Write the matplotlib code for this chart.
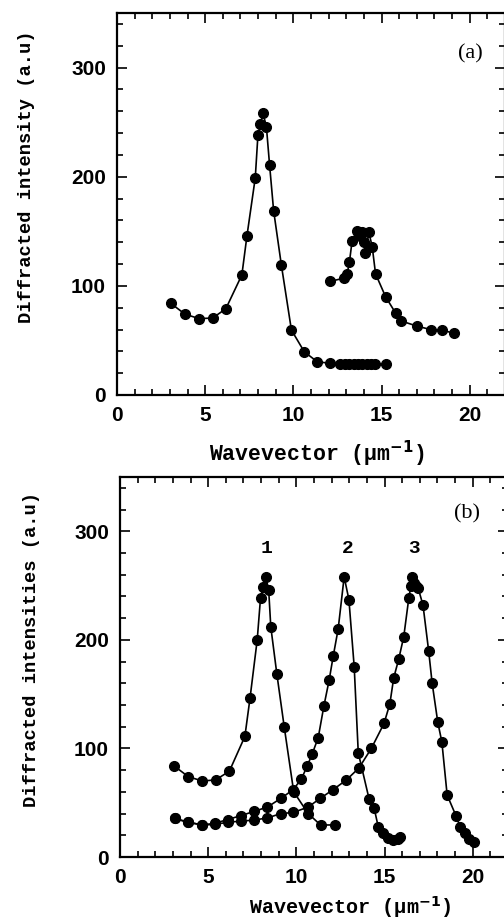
import numpy as np
import matplotlib
matplotlib.use("Agg")
import matplotlib.pyplot as plt
from matplotlib.ticker import MultipleLocator

# panel (a): first and second diffraction peaks
a1_x = [3.05, 3.86, 4.66, 5.42, 6.17, 7.08, 7.37, 7.84, 7.99, 8.13, 8.28, 8.47, 8.65, 8.88,
        9.32, 9.89, 10.62, 11.35, 12.1, 12.67, 12.92, 13.17, 13.41, 13.65, 13.9, 14.15,
        14.39, 14.64, 15.25]
a1_y = [84, 74, 70, 70.5, 79, 110, 146, 199, 238, 248, 258, 246, 211, 169,
        119, 59.5, 39.6, 30.5, 29, 28, 28, 28, 28, 28, 28, 28,
        28, 28, 28]
a2_x = [12.05, 12.86, 13.05, 13.18, 13.33, 13.58, 13.75, 13.88, 14.0, 14.09, 14.28, 14.47,
        14.66, 15.23, 15.8, 16.08, 17.03, 17.78, 18.44, 19.1]
a2_y = [104, 107, 111, 122, 141, 150, 146, 149, 140, 130, 149, 136,
        111, 90, 75, 68, 63, 60, 59.5, 56.5]

# panel (b): three curves
b1_x = [3.06, 3.87, 4.67, 5.42, 6.2, 7.08, 7.37, 7.78, 7.97, 8.12, 8.26, 8.43, 8.55, 8.89,
        9.31, 9.85, 10.67, 11.37, 12.18]
b1_y = [84, 74, 70, 71, 79, 111, 146, 200, 239, 249, 258, 246, 212, 169,
        120, 60, 40, 29.5, 29.5]
b2_x = [3.1, 3.87, 4.67, 5.38, 6.1, 6.84, 7.6, 8.36, 9.12, 9.82, 10.29, 10.62, 10.9, 11.24,
        11.56, 11.86, 12.09, 12.37, 12.71, 12.98, 13.28, 13.51, 14.13, 14.41, 14.64, 14.9,
        15.2, 15.48, 15.77, 15.9]
b2_y = [35.5, 32, 29.5, 31, 34.5, 38, 42, 46, 54, 62, 72, 84, 95, 110,
        139, 163, 185, 210, 258, 237, 175, 96, 53, 45, 28, 22,
        17.5, 16, 17, 18.5]
b3_x = [3.1, 3.87, 4.67, 5.38, 6.1, 6.84, 7.6, 8.36, 9.12, 9.82, 10.67, 11.35, 12.08, 12.84,
        13.55, 14.25, 14.97, 15.3, 15.52, 15.8, 16.09, 16.38, 16.5, 16.57, 16.66, 16.8,
        16.9, 17.18, 17.5, 17.7, 18.02, 18.25, 18.55, 19.05, 19.28, 19.58, 19.8, 20.09]
b3_y = [35.5, 32, 29.5, 30, 32, 33, 34, 36, 40, 41, 46, 54, 62, 71,
        82, 100, 123, 141, 165, 182, 203, 239, 250, 258, 252, 250,
        248, 232, 190, 160, 124, 106, 57, 38, 28, 22, 17, 14]

peak_labels = ['1', '2', '3']
peak_label_x = [8.3, 12.9, 16.7]

mono = 'Liberation Mono'
xlab = 'Wavevector (μm$^{\\mathbf{-1}}$)'

fig = plt.figure(figsize=(5.04, 9.21), dpi=100)
W, H = 504.0, 921.0

def make_ax(left, right, bottom, top):
    ax = fig.add_axes([left / W, 1 - bottom / H, (right - left) / W, (bottom - top) / H])
    ax.set_xlim(0, 22)
    ax.set_ylim(0, 350)
    ax.xaxis.set_major_locator(MultipleLocator(5))
    ax.xaxis.set_minor_locator(MultipleLocator(1))
    ax.yaxis.set_major_locator(MultipleLocator(100))
    ax.yaxis.set_minor_locator(MultipleLocator(20))
    ax.tick_params(which='both', direction='in', top=True, right=True, width=1.2,
                   labelsize=15, pad=8)
    ax.tick_params(which='major', length=7)
    ax.tick_params(which='minor', length=4)
    for lab in ax.get_xticklabels() + ax.get_yticklabels():
        lab.set_family('Liberation Sans')
        lab.set_fontweight('bold')
    for s in ax.spines.values():
        s.set_linewidth(1.6)
    return ax

style = dict(color='black', marker='o', markersize=7, linewidth=1.2, clip_on=False)

ax1 = make_ax(117, 505, 395, 13)
ax1.plot(a1_x, a1_y, **style)
ax1.plot(a2_x, a2_y, **style)
ax1.text(20.05, 313, '(a)', family='Liberation Serif', fontsize=16, ha='center', va='center')
ax1.set_ylabel('Diffracted intensity (a.u)', family=mono, fontweight='bold', fontsize=13.5)
ax1.yaxis.set_label_coords(-0.211, 0.571)
ax1.set_xlabel(xlab, family=mono, fontweight='bold', fontsize=15.5)
ax1.xaxis.set_label_coords(0.515, -0.115)

ax2 = make_ax(120, 508, 857, 477)
ax2.plot(b1_x, b1_y, **style)
ax2.plot(b2_x, b2_y, **style)
ax2.plot(b3_x, b3_y, **style)
ax2.text(19.7, 316, '(b)', family='Liberation Serif', fontsize=16, ha='center', va='center')
for lab, lx in zip(peak_labels, peak_label_x):
    ax2.text(lx, 284, lab, family=mono, fontweight='bold', fontsize=14, ha='center', va='center')
ax2.set_ylabel('Diffracted intensities (a.u)', family=mono, fontweight='bold', fontsize=13.5)
ax2.yaxis.set_label_coords(-0.206, 0.545)
ax2.set_xlabel(xlab, family=mono, fontweight='bold', fontsize=14.5)
ax2.xaxis.set_label_coords(0.593, -0.097)

fig.savefig('out.png', dpi=100)
